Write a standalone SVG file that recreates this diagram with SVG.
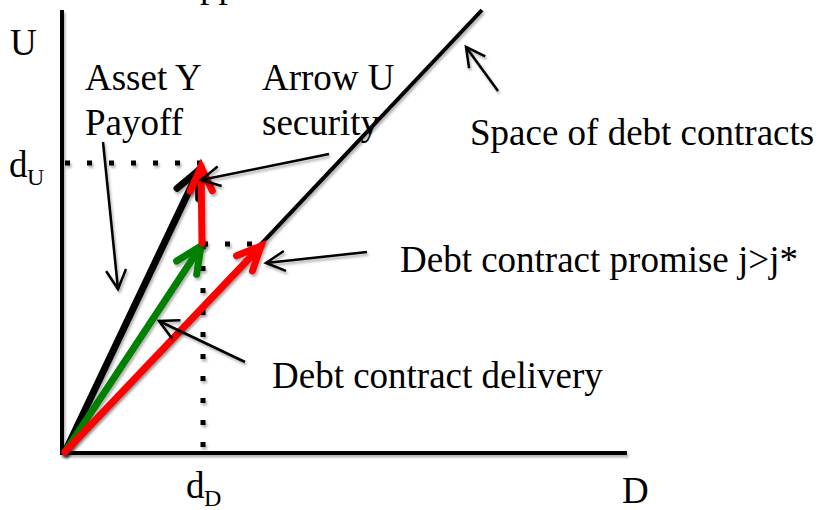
<svg xmlns="http://www.w3.org/2000/svg" width="821" height="510" viewBox="0 0 821 510">
<style>
text{font-family:"Liberation Serif","Times New Roman",serif;font-size:37px;fill:#000}
.sub{font-size:24px}
.axis{stroke:#000;stroke-width:4;fill:none}
.thick{stroke-width:7;fill:none;stroke-linecap:round}
.dot{stroke:#000;stroke-width:5;stroke-dasharray:5 17;fill:none}
.ptr{stroke:#000;stroke-width:2.5;fill:none;marker-end:url(#thin)}
</style>
<defs>
<filter id="sh" filterUnits="userSpaceOnUse" x="0" y="0" width="821" height="510">
<feDropShadow dx="1.5" dy="2.5" stdDeviation="1" flood-color="#000" flood-opacity="0.3"/>
</filter>
<marker id="thin" markerUnits="userSpaceOnUse" viewBox="-24 -14 28 28" refX="0" refY="0" markerWidth="28" markerHeight="28" orient="auto" overflow="visible">
<path d="M-19,-10 L0,0 L-19,10" fill="none" stroke="#000" stroke-width="2.5"/>
</marker>
<marker id="hk" markerUnits="userSpaceOnUse" viewBox="-34 -18 40 36" markerWidth="40" markerHeight="36" refX="0" refY="0" orient="auto" overflow="visible">
<path d="M-26,-12 L0,0 L-26,12" fill="none" stroke="#000" stroke-width="7" stroke-linecap="round"/>
</marker>
<marker id="hg" markerUnits="userSpaceOnUse" viewBox="-34 -18 40 36" markerWidth="40" markerHeight="36" refX="0" refY="0" orient="auto" overflow="visible">
<path d="M-26,-12 L0,0 L-26,12" fill="none" stroke="#008000" stroke-width="7" stroke-linecap="round"/>
</marker>
<marker id="hr" markerUnits="userSpaceOnUse" viewBox="-34 -18 40 36" markerWidth="40" markerHeight="36" refX="0" refY="0" orient="auto" overflow="visible">
<path d="M-24,-11 L0,0 L-24,11" fill="none" stroke="#ff0000" stroke-width="7" stroke-linecap="round"/>
</marker>
</defs>
<rect width="821" height="510" fill="#fff"/>
<text x="200" y="-3">pp</text>
<g id="axes" filter="url(#sh)">
<line class="axis" x1="62" y1="10" x2="62" y2="455"/>
<line class="axis" x1="60" y1="453" x2="627" y2="453"/>
</g>
<g id="guides" filter="url(#sh)">
<line class="dot" x1="65" y1="163" x2="205" y2="163"/>
<line class="dot" x1="203" y1="244" x2="203" y2="455"/>
<line class="dot" x1="203" y1="244" x2="255" y2="244"/>
</g>
<g id="debt-space" filter="url(#sh)">
<line stroke="#000" stroke-width="4" x1="64" y1="453" x2="482" y2="10"/>
</g>
<g id="asset-y-payoff" filter="url(#sh)">
<line class="thick" stroke="#000" x1="65" y1="452" x2="199" y2="170" marker-end="url(#hk)"/>
</g>
<g id="delivery" filter="url(#sh)">
<line class="thick" stroke="#008000" x1="65" y1="452" x2="201" y2="246" marker-end="url(#hg)"/>
</g>
<g id="promise" filter="url(#sh)">
<line class="thick" stroke="#ff0000" x1="65" y1="452" x2="261" y2="246" marker-end="url(#hr)"/>
</g>
<g id="arrow-u" filter="url(#sh)">
<line class="thick" stroke="#ff0000" x1="202" y1="243" x2="201" y2="167" marker-end="url(#hr)"/>
</g>
<g id="labels">
<text x="10" y="55">U</text>
<g id="du"><text x="9" y="177">d</text><text class="sub" x="27" y="185">U</text></g>
<g id="dd"><text x="186" y="498">d</text><text class="sub" x="204" y="506">D</text></g>
<text x="622" y="503">D</text>
<g id="lbl-asset"><text x="85" y="90">Asset Y</text><text x="85" y="135">Payoff</text></g>
<g id="lbl-arrow"><text x="262" y="90">Arrow U</text><text x="262" y="135">security</text></g>
<g id="lbl-space"><text x="470" y="145">Space of debt contracts</text></g>
<g id="lbl-promise"><text x="400" y="272">Debt contract promise j&gt;j*</text></g>
<g id="lbl-delivery"><text x="272" y="388">Debt contract delivery</text></g>
</g>
<g id="connectors" filter="url(#sh)">
<line class="ptr" x1="103" y1="142" x2="118" y2="289"/>
<line class="ptr" x1="329" y1="154" x2="201" y2="180"/>
<line class="ptr" x1="498" y1="91" x2="466" y2="47"/>
<line class="ptr" x1="367" y1="252" x2="266" y2="263"/>
<line class="ptr" x1="245" y1="362" x2="159" y2="321"/>
</g>
</svg>
